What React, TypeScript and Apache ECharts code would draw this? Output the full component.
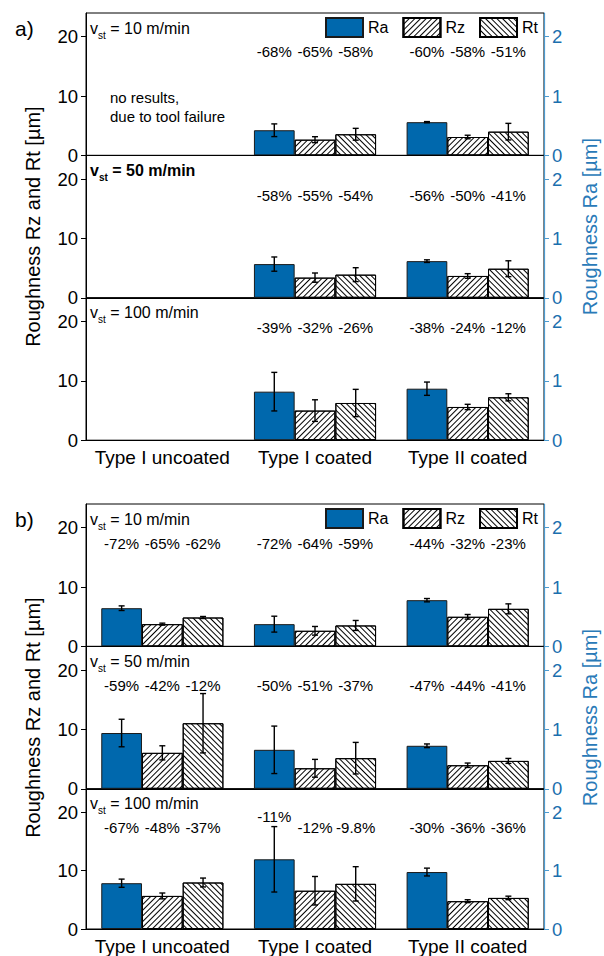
import React, { useEffect, useRef } from 'react';
import * as echarts from 'echarts';

const categories = ['Type I uncoated', 'Type I coated', 'Type II coated'];
const speeds = ['10', '50', '100'];
const measures = ['Ra', 'Rz', 'Rt'];

// Panel a) — null = no results (tool failure). Ra in µm (right axis), Rz/Rt in µm (left axis)
const aRa = [[null, 0.424, 0.56], [null, 0.568, 0.618], [null, 0.818, 0.868]];
const aRaErr = [[null, 0.107, 0.01], [null, 0.12, 0.022], [null, 0.325, 0.112]];
const aRz = [[null, 2.65, 3.1], [null, 3.4, 3.68], [null, 4.99, 5.6]];
const aRzErr = [[null, 0.5, 0.3], [null, 0.78, 0.39], [null, 1.82, 0.45]];
const aRt = [[null, 3.56, 4.0], [null, 3.9, 4.9], [null, 6.27, 7.23]];
const aRtErr = [[null, 1.0, 1.4], [null, 1.17, 1.34], [null, 2.3, 0.6]];

// Panel b)
const bRa = [[0.644, 0.375, 0.779], [0.94, 0.657, 0.725], [0.784, 1.193, 0.975]];
const bRaErr = [[0.039, 0.134, 0.028], [0.232, 0.4, 0.031], [0.07, 0.56, 0.067]];
const bRz = [[3.75, 2.63, 4.99], [6.06, 3.46, 3.97], [5.66, 6.55, 4.76]];
const bRzErr = [[0.17, 0.73, 0.39], [1.19, 1.5, 0.37], [0.5, 2.44, 0.25]];
const bRt = [[4.87, 3.53, 6.33], [11.05, 5.16, 4.7], [7.96, 7.73, 5.32]];
const bRtErr = [[0.17, 0.84, 0.84], [5.0, 2.66, 0.42], [0.76, 2.94, 0.3]];

// Percentage reductions [speed][category][Ra, Rz, Rt]
const aPct = [
  [null, ['-68%', '-65%', '-58%'], ['-60%', '-58%', '-51%']],
  [null, ['-58%', '-55%', '-54%'], ['-56%', '-50%', '-41%']],
  [null, ['-39%', '-32%', '-26%'], ['-38%', '-24%', '-12%']],
];
const bPct = [
  [['-72%', '-65%', '-62%'], ['-72%', '-64%', '-59%'], ['-44%', '-32%', '-23%']],
  [['-59%', '-42%', '-12%'], ['-50%', '-51%', '-37%'], ['-47%', '-44%', '-41%']],
  [['-67%', '-48%', '-37%'], ['-11%', '-12%', '-9.8%'], ['-30%', '-36%', '-36%']],
];
// height (left-axis units) at which the percentage row sits
const aPctLevel = [17.45, 17.3, 19.05];
const bPctLevel = [17.4, 17.45, 17.4];
const raisedLabel = { panel: 1, speed: 2, cat: 1, bar: 0, level: 19.3 };

const leftTicks = [0, 10, 20];
const rightTicks = [0, 1, 2];

const FONT = "'Liberation Sans', Arial, Helvetica, sans-serif";
const BLUE = '#0068ad';
const AXIS_BLUE = '#4c9bd0';
const LABEL_BLUE = '#1b6fae';

const panelTops = [13, 504];
const subH = 142.4;
const gridLeft = 86;
const gridWidth = 458;

const hatchFwd = {
  symbol: 'rect', symbolSize: 1, color: '#000', backgroundColor: '#fff',
  dashArrayX: [1, 0], dashArrayY: [1, 2.2], rotation: -Math.PI / 4,
};
const hatchBack = { ...hatchFwd, rotation: Math.PI / 4 };

function buildOption() {
  const grids: any[] = [];
  const xAxes: any[] = [];
  const yAxes: any[] = [];
  const series: any[] = [];
  const graphics: any[] = [];

  const panels = [
    { ra: aRa, raE: aRaErr, rz: aRz, rzE: aRzErr, rt: aRt, rtE: aRtErr, pct: aPct, lvl: aPctLevel },
    { ra: bRa, raE: bRaErr, rz: bRz, rzE: bRzErr, rt: bRt, rtE: bRtErr, pct: bPct, lvl: bPctLevel },
  ];

  panels.forEach((P, p) => {
    for (let s = 0; s < 3; s++) {
      const g = p * 3 + s;
      const top = panelTops[p] + s * subH;
      grids.push({ left: gridLeft, top, width: gridWidth, height: subH, show: true, borderColor: '#000', borderWidth: 1, backgroundColor: 'transparent' });
      xAxes.push({
        type: 'category', gridIndex: g, data: categories,
        axisLine: { lineStyle: { color: '#000', width: 1 } },
        axisTick: { show: false },
        axisLabel: { show: s === 2, fontSize: 19, color: '#000', margin: 8, fontFamily: FONT, interval: 0 },
        z: 3,
      });
      yAxes.push({
        type: 'value', gridIndex: g, min: 0, max: 24, interval: 10, position: 'left',
        axisLine: { show: true, lineStyle: { color: '#000', width: 1 } },
        axisTick: { show: true, length: 5, lineStyle: { color: '#000' }, customValues: leftTicks },
        axisLabel: { fontSize: 18.5, color: '#000', margin: 8, fontFamily: FONT, customValues: leftTicks },
        splitLine: { show: false }, z: 3,
      });
      yAxes.push({
        type: 'value', gridIndex: g, min: 0, max: 2.4, interval: 1, position: 'right',
        axisLine: { show: true, lineStyle: { color: AXIS_BLUE, width: 1.2 } },
        axisTick: { show: true, length: 5, lineStyle: { color: AXIS_BLUE }, customValues: rightTicks },
        axisLabel: { fontSize: 18.5, color: LABEL_BLUE, margin: 8, fontFamily: FONT, customValues: rightTicks },
        splitLine: { show: false }, z: 5,
      });

      const common = { xAxisIndex: g, barGap: '0%', barCategoryGap: '20%' };
      series.push({ ...common, type: 'bar', name: 'Ra', yAxisIndex: 2 * g + 1, data: P.ra[s], itemStyle: { color: BLUE, borderColor: '#1a1a1a', borderWidth: 1 } });
      series.push({ ...common, type: 'bar', name: 'Rz', yAxisIndex: 2 * g, data: P.rz[s], itemStyle: { color: '#fff', borderColor: '#000', borderWidth: 1, decal: hatchFwd } });
      series.push({ ...common, type: 'bar', name: 'Rt', yAxisIndex: 2 * g, data: P.rt[s], itemStyle: { color: '#fff', borderColor: '#000', borderWidth: 1, decal: hatchBack } });

      const errSets = [
        { v: P.ra[s], e: P.raE[s], y: 2 * g + 1 },
        { v: P.rz[s], e: P.rzE[s], y: 2 * g },
        { v: P.rt[s], e: P.rtE[s], y: 2 * g },
      ];
      errSets.forEach((es, k) => {
        const data: any[] = [];
        es.v.forEach((v, i) => { if (v != null) data.push([i, v, es.e[i]]); });
        series.push({
          type: 'custom', name: 'err', xAxisIndex: g, yAxisIndex: es.y, z: 10, silent: true,
          data,
          renderItem: (params: any, api: any) => {
            const ci = api.value(0), v = api.value(1), e = api.value(2);
            const bw = api.size([1, 0])[0];
            const barW = (bw * 0.8) / 3;
            const cx = api.coord([ci, 0])[0] + (k - 1) * barW;
            const yt = api.coord([ci, v + e])[1];
            const yb = api.coord([ci, Math.max(v - e, 0)])[1];
            const st = { stroke: '#000', lineWidth: 1.4 };
            return {
              type: 'group', children: [
                { type: 'line', shape: { x1: cx, y1: yt, x2: cx, y2: yb }, style: st },
                { type: 'line', shape: { x1: cx - 3, y1: yt, x2: cx + 3, y2: yt }, style: st },
                { type: 'line', shape: { x1: cx - 3, y1: yb, x2: cx + 3, y2: yb }, style: st },
              ],
            };
          },
        });
      });

      const labels: any[] = [];
      P.pct[s].forEach((row: any, ci: number) => {
        if (!row) return;
        row.forEach((t: string, k: number) => {
          let lvl = P.lvl[s];
          if (p === raisedLabel.panel && s === raisedLabel.speed && ci === raisedLabel.cat && k === raisedLabel.bar) lvl = raisedLabel.level;
          labels.push({ ci, k, t, lvl });
        });
      });
      series.push({
        type: 'custom', name: 'pct', xAxisIndex: g, yAxisIndex: 2 * g, z: 11, silent: true,
        data: labels.map((l) => [l.ci, l.lvl]),
        renderItem: (params: any, api: any) => {
          const l = labels[params.dataIndex];
          const bw = api.size([1, 0])[0];
          const barW = (bw * 0.8) / 3;
          const pt = api.coord([l.ci, l.lvl]);
          return {
            type: 'text',
            style: { x: pt[0] + (l.k - 1) * barW, y: pt[1], text: l.t, fill: '#000', fontSize: 15, fontFamily: FONT, align: 'center', verticalAlign: 'middle' },
          };
        },
      });

      const bold = p === 0 && s === 1 ? 'bold' : 'normal';
      graphics.push({
        type: 'text', x: 90, y: top + 15, z: 20,
        style: {
          text: `{v|v}{s|st}{t| = ${speeds[s]} m/min}`,
          verticalAlign: 'middle',
          rich: {
            v: { fontSize: 16, fontFamily: FONT, fill: '#000', fontWeight: bold, lineHeight: 24 },
            s: { fontSize: 10, fontFamily: FONT, fill: '#000', fontWeight: bold, lineHeight: 24, verticalAlign: 'bottom' },
            t: { fontSize: 16, fontFamily: FONT, fill: '#000', fontWeight: bold, lineHeight: 24 },
          },
        },
      });
    }
    const mid = panelTops[p] + subH * 1.5;
    graphics.push({ type: 'text', x: 15, y: panelTops[p] + 15, style: { text: p === 0 ? 'a)' : 'b)', fontSize: 21, fontFamily: FONT, fill: '#000', verticalAlign: 'middle' } });
    graphics.push({ type: 'text', x: 33, y: mid, rotation: Math.PI / 2, style: { text: 'Roughness Rz and Rt [µm]', fontSize: 20, fontFamily: FONT, fill: '#000', align: 'center', verticalAlign: 'middle' } });
    graphics.push({ type: 'text', x: 590, y: mid, rotation: Math.PI / 2, style: { text: 'Roughness Ra [µm]', fontSize: 20, fontFamily: FONT, fill: '#2a7ab8', align: 'center', verticalAlign: 'middle' } });
  });

  graphics.push({ type: 'text', x: 110, y: 107, style: { text: 'no results,\ndue to tool failure', fontSize: 15, lineHeight: 19, fontFamily: FONT, fill: '#000', verticalAlign: 'middle' } });

  const legends = panelTops.map((t) => ({
    data: measures, left: 325, top: t + 4, itemWidth: 37, itemHeight: 19, itemGap: 14, itemTextGap: 5, padding: 0,
    icon: 'rect', selectedMode: false, textStyle: { fontSize: 16, color: '#000', fontFamily: FONT },
  }));

  return {
    animation: false,
    backgroundColor: '#fff',
    grid: grids, xAxis: xAxes, yAxis: yAxes, series, legend: legends,
    graphic: { elements: graphics },
  };
}

export default function App() {
  const ref = useRef<HTMLDivElement>(null);
  useEffect(() => {
    if (!ref.current) return;
    const chart = echarts.init(ref.current, undefined, { renderer: 'svg' });
    chart.setOption(buildOption() as any);
    return () => chart.dispose();
  }, []);
  return <div ref={ref} style={{ position: 'absolute', left: 0, top: 0, width: 604, height: 956 }} />;
}
